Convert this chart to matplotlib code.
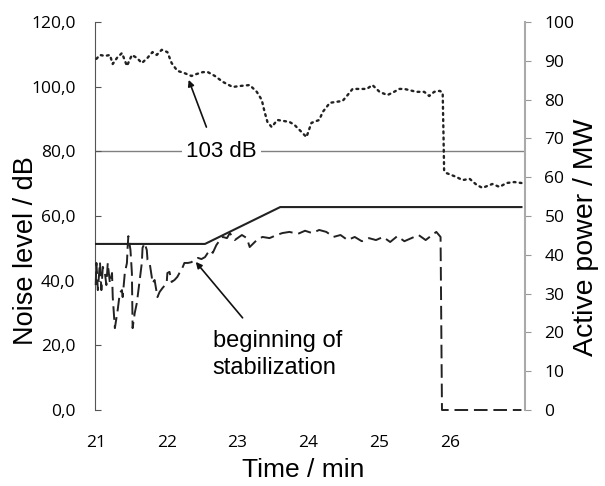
import matplotlib
matplotlib.use("Agg")
import matplotlib.pyplot as plt
from matplotlib.ticker import FixedLocator

# ---- data ----
noise_t = [21.01, 21.06, 21.13, 21.20, 21.24, 21.30, 21.37, 21.44, 21.51, 21.58,
           21.65, 21.73, 21.80, 21.86, 21.93, 22.01, 22.07, 22.15, 22.25, 22.35,
           22.42, 22.51, 22.58, 22.68, 22.79, 22.93, 23.03, 23.17, 23.27, 23.34,
           23.38, 23.42, 23.48, 23.56, 23.73, 23.80, 23.90, 23.97, 24.04, 24.15,
           24.20, 24.30, 24.48, 24.55, 24.62, 24.82, 24.90, 25.00, 25.11, 25.18,
           25.28, 25.35, 25.52, 25.63, 25.70, 25.77, 25.85, 25.89, 25.90, 25.91,
           25.94, 26.08, 26.17, 26.27, 26.37, 26.45, 26.59, 26.69, 26.79, 26.90, 27.00]
noise_db = [108.6, 109.8, 109.5, 109.8, 107.0, 108.9, 110.4, 106.4, 109.8, 108.9,
            107.3, 108.9, 110.7, 109.8, 111.4, 110.7, 107.3, 104.9, 104.2, 103.3,
            103.9, 104.5, 104.5, 103.3, 101.5, 99.9, 100.2, 100.5, 98.4, 95.9,
            92.2, 89.1, 87.5, 89.7, 89.1, 88.2, 86.0, 84.4, 88.8, 89.7,
            92.2, 95.0, 95.6, 97.4, 99.3, 99.3, 100.5, 98.4, 97.4, 98.1,
            99.3, 99.3, 98.4, 98.4, 97.1, 98.4, 98.7, 98.1, 86.6, 74.2,
            73.3, 72.1, 71.1, 71.5, 69.6, 68.7, 69.9, 69.0, 70.2, 70.5, 70.2]

power_t = [21.00, 21.01, 21.03, 21.06, 21.08, 21.10, 21.13, 21.15, 21.17, 21.20,
           21.23, 21.24, 21.27, 21.31, 21.34, 21.37, 21.38, 21.41, 21.44, 21.45,
           21.46, 21.49, 21.51, 21.52, 21.55, 21.58, 21.59, 21.62, 21.65, 21.66,
           21.69, 21.72, 21.73, 21.76, 21.79, 21.80, 21.83, 21.86, 21.87, 21.90,
           21.94, 22.00, 22.01, 22.04, 22.07, 22.11, 22.15, 22.18, 22.21, 22.25,
           22.30, 22.35, 22.39, 22.44, 22.49, 22.54, 22.58, 22.61, 22.65, 22.70,
           22.75, 22.79, 22.85, 22.89, 22.96, 23.06, 23.13, 23.17, 23.27, 23.35,
           23.45, 23.55, 23.63, 23.73, 23.85, 23.95, 24.05, 24.15, 24.25, 24.35,
           24.45, 24.55, 24.65, 24.75, 24.85, 24.95, 25.05, 25.15, 25.25, 25.35,
           25.45, 25.55, 25.65, 25.72, 25.80, 25.86, 25.88, 27.00]
power_mw = [32.2, 37.9, 30.9, 38.1, 30.9, 36.9, 35.3, 32.2, 37.9, 32.7,
            35.3, 29.1, 21.1, 25.8, 30.2, 30.9, 29.1, 35.3, 37.9, 42.0,
            44.8, 41.2, 35.3, 21.1, 25.0, 27.6, 29.1, 33.5, 37.9, 41.8,
            43.0, 41.2, 38.7, 37.9, 34.3, 32.7, 33.5, 30.2, 29.1, 30.4,
            31.4, 32.7, 35.3, 35.6, 33.0, 33.5, 34.3, 35.3, 36.1, 37.9,
            37.9, 38.1, 38.7, 39.2, 38.9, 39.4, 40.5, 41.2, 40.5, 42.5,
            43.8, 44.6, 44.3, 45.6, 43.8, 45.1, 44.3, 42.0, 43.8, 44.6,
            44.3, 45.1, 45.6, 45.9, 45.4, 46.2, 45.6, 46.4, 45.9, 44.6,
            45.1, 43.8, 44.6, 43.5, 44.3, 43.8, 44.6, 43.3, 44.8, 43.5,
            44.3, 45.1, 43.8, 44.8, 45.9, 44.6, 0.0, 0.0]

setpoint_t = [21.00, 22.54, 23.60, 27.00]
setpoint_mw = [42.8, 42.8, 52.3, 52.3]

ref_level_db = 80.0
ref_label = "103 dB"
annot_label = "beginning of\nstabilization"

x_ticks = [21, 22, 23, 24, 25, 26]
x_tick_labels = ["21", "22", "23", "24", "25", "26"]
left_ticks = [0, 20, 40, 60, 80, 100, 120]
left_tick_labels = ["0,0", "20,0", "40,0", "60,0", "80,0", "100,0", "120,0"]
right_ticks = [0, 10, 20, 30, 40, 50, 60, 70, 80, 90, 100]
right_tick_labels = [str(v) for v in right_ticks]

# ---- figure ----
fig = plt.figure(figsize=(6.05, 4.86), dpi=100)
ax = fig.add_axes([95 / 605, 76 / 486, 430 / 605, 388 / 486])
ax2 = ax.twinx()

tick_font = "Open Sans"
lab_font = "Liberation Sans"

ax.set_xlim(20.99, 27.05)
ax.set_ylim(0, 120)
ax2.set_ylim(0, 100)

# reference line
ax.axhline(ref_level_db, color="#808080", lw=1.0, zorder=1)

# series
ax.plot(noise_t, noise_db, color="#222222", lw=1.7, linestyle=(0, (0.8, 1.8)),
        dash_capstyle="round", zorder=3)
ax2.plot(power_t, power_mw, color="#222222", lw=1.4, linestyle=(0, (7, 3)),
         zorder=3, clip_on=False)
ax2.plot(setpoint_t, setpoint_mw, color="#222222", lw=1.5, zorder=2)

# text and arrows
ax.text(22.77, ref_level_db, ref_label, fontsize=16, family=lab_font,
        ha="center", va="center",
        bbox=dict(facecolor="white", edgecolor="none", pad=3), zorder=4)
ax.annotate("", xy=(22.31, 102.1), xytext=(22.56, 87.5),
            arrowprops=dict(arrowstyle="-|>", color="#111111", lw=1.2,
                            mutation_scale=9, shrinkA=0, shrinkB=0), zorder=5)
ax.annotate("", xy=(22.41, 45.8), xytext=(23.07, 28.5),
            arrowprops=dict(arrowstyle="-|>", color="#111111", lw=1.2,
                            mutation_scale=9, shrinkA=0, shrinkB=0), zorder=5)
ax.text(22.65, 24.8, annot_label, fontsize=17, family=lab_font,
        ha="left", va="top", linespacing=1.3)

# axes styling
for s in ["top", "bottom", "right"]:
    ax.spines[s].set_visible(False)
ax.spines["left"].set_color("#555555")
for s in ["top", "bottom", "left"]:
    ax2.spines[s].set_visible(False)
ax2.spines["right"].set_color("#aaaaaa")
ax2.spines["right"].set_linewidth(1.5)

ax.xaxis.set_major_locator(FixedLocator(x_ticks))
ax.set_xticklabels(x_tick_labels, family=tick_font, fontsize=12.5)
ax.tick_params(axis="x", length=0, pad=18)

ax.yaxis.set_major_locator(FixedLocator(left_ticks))
ax.set_yticklabels(left_tick_labels, family=tick_font, fontsize=12.5)
ax.tick_params(axis="y", direction="in", length=4, color="#555555", pad=14)

ax2.yaxis.set_major_locator(FixedLocator(right_ticks))
ax2.set_yticklabels(right_tick_labels, family=tick_font, fontsize=12.5)
ax2.tick_params(axis="y", direction="out", length=4, color="#999999", pad=10)

ax.set_xlabel("Time / min", family=lab_font, fontsize=19)
ax.xaxis.set_label_coords(0.483, -0.124)
ax.set_ylabel("Noise level / dB", family=lab_font, fontsize=19.5)
ax.yaxis.set_label_coords(-0.131, 0.412)
ax2.set_ylabel("Active power / MW", family=lab_font, fontsize=20.5)
ax2.yaxis.set_label_coords(1.112, 0.445)

fig.savefig("out.png", dpi=100, facecolor="white")
